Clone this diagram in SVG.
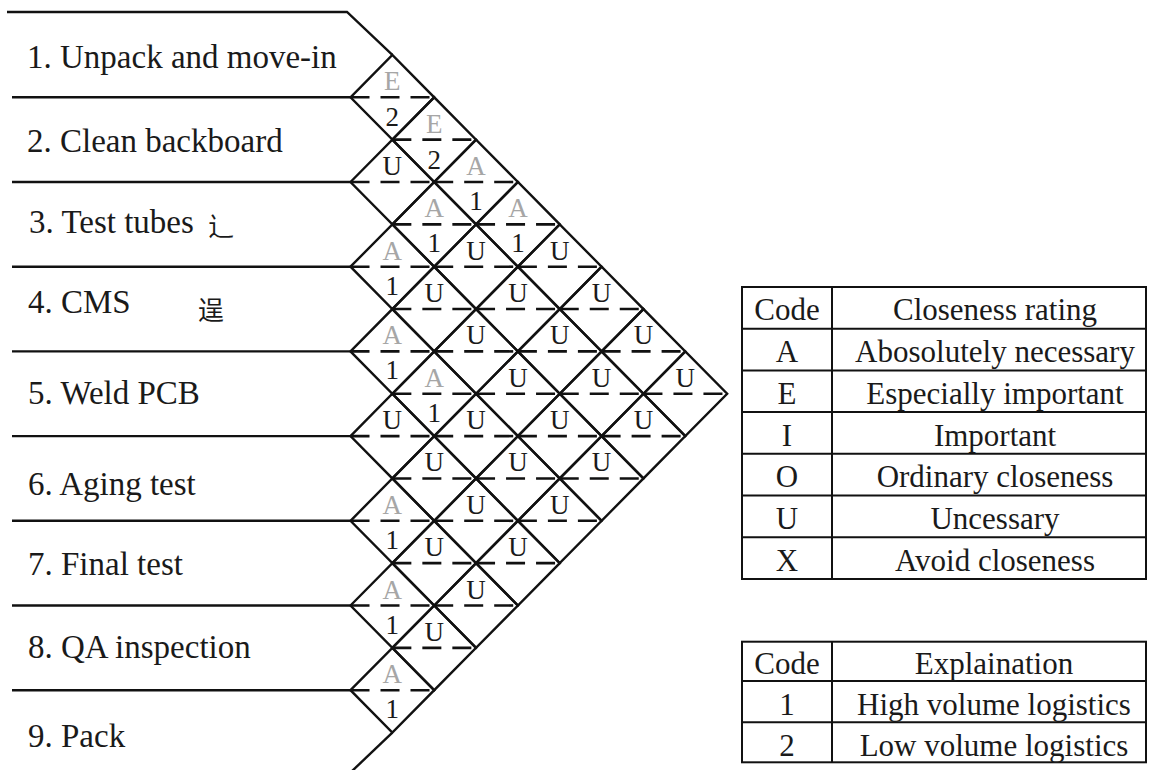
<svg xmlns="http://www.w3.org/2000/svg" xmlns:xlink="http://www.w3.org/1999/xlink" width="1149" height="770" viewBox="0 0 1149 770">
<style>
.ln{stroke:#111;stroke-width:2.4;fill:none}
.dash{stroke:#111;stroke-width:2.6;stroke-dasharray:19 11;fill:none}
.lbl{font-family:"Liberation Serif","Noto Sans CJK SC",serif;font-size:33px;fill:#1a1a1a}
.cjk{font-family:"Noto Sans CJK SC",sans-serif;font-size:26px;fill:#1a1a1a}
.g{font-family:"Liberation Serif",serif;font-size:27px;fill:#a6a6a6;text-anchor:middle}
.k{font-family:"Liberation Serif",serif;font-size:27px;fill:#1a1a1a;text-anchor:middle}
.t{font-family:"Liberation Serif",serif;font-size:31px;fill:#1a1a1a;text-anchor:middle}
.tb{stroke:#111;stroke-width:2;fill:none}
</style>
<defs>
<g id="dia">
<polygon class="ln" points="-41.85,0 0,-42.35 41.85,0 0,42.35"/>
<line class="dash" x1="-41.85" y1="0" x2="41.85" y2="0"/>
</g>
</defs>
<rect width="1149" height="770" fill="#fff"/>

<g id="rows">
<polyline class="ln" points="7,12 347,12 392.35,54.95"/>
<line class="ln" x1="12" y1="97.3" x2="350.5" y2="97.3"/>
<line class="ln" x1="12" y1="182" x2="350.5" y2="182"/>
<line class="ln" x1="12" y1="266.7" x2="350.5" y2="266.7"/>
<line class="ln" x1="12" y1="351.4" x2="350.5" y2="351.4"/>
<line class="ln" x1="12" y1="436.1" x2="350.5" y2="436.1"/>
<line class="ln" x1="12" y1="520.8" x2="350.5" y2="520.8"/>
<line class="ln" x1="12" y1="605.5" x2="350.5" y2="605.5"/>
<line class="ln" x1="12" y1="690.2" x2="350.5" y2="690.2"/>
<line class="ln" x1="392.35" y1="732.55" x2="350" y2="773"/>
</g>

<g id="activity-1"><text class="lbl" x="27" y="68">1. Unpack and move-in</text></g>
<g id="activity-2"><text class="lbl" x="27" y="152">2. Clean backboard</text></g>
<g id="activity-3"><text class="lbl" x="29" y="233">3. Test tubes</text><text class="cjk" x="208" y="236">辶</text></g>
<g id="activity-4"><text class="lbl" x="28" y="313">4. CMS</text><text class="cjk" x="198" y="320">逞</text></g>
<g id="activity-5"><text class="lbl" x="28" y="404">5. Weld PCB</text></g>
<g id="activity-6"><text class="lbl" x="28" y="495">6. Aging test</text></g>
<g id="activity-7"><text class="lbl" x="28" y="575">7. Final test</text></g>
<g id="activity-8"><text class="lbl" x="28" y="658">8. QA inspection</text></g>
<g id="activity-9"><text class="lbl" x="28" y="747">9. Pack</text></g>

<g id="matrix">
<g id="r1-2" transform="translate(392.35,97.3)"><use xlink:href="#dia"/><text class="g" y="-7">E</text><text class="k" y="29">2</text></g>
<g id="r2-3" transform="translate(392.35,182)"><use xlink:href="#dia"/><text class="k" y="-7">U</text></g>
<g id="r3-4" transform="translate(392.35,266.7)"><use xlink:href="#dia"/><text class="g" y="-7">A</text><text class="k" y="28">1</text></g>
<g id="r4-5" transform="translate(392.35,351.4)"><use xlink:href="#dia"/><text class="g" y="-7">A</text><text class="k" y="28">1</text></g>
<g id="r5-6" transform="translate(392.35,436.1)"><use xlink:href="#dia"/><text class="k" y="-7">U</text></g>
<g id="r6-7" transform="translate(392.35,520.8)"><use xlink:href="#dia"/><text class="g" y="-7">A</text><text class="k" y="28">1</text></g>
<g id="r7-8" transform="translate(392.35,605.5)"><use xlink:href="#dia"/><text class="g" y="-7">A</text><text class="k" y="28">1</text></g>
<g id="r8-9" transform="translate(392.35,690.2)"><use xlink:href="#dia"/><text class="g" y="-7">A</text><text class="k" y="28">1</text></g>
<g id="r1-3" transform="translate(434.2,139.65)"><use xlink:href="#dia"/><text class="g" y="-7">E</text><text class="k" y="29">2</text></g>
<g id="r2-4" transform="translate(434.2,224.35)"><use xlink:href="#dia"/><text class="g" y="-7">A</text><text class="k" y="28">1</text></g>
<g id="r3-5" transform="translate(434.2,309.05)"><use xlink:href="#dia"/><text class="k" y="-7">U</text></g>
<g id="r4-6" transform="translate(434.2,393.75)"><use xlink:href="#dia"/><text class="g" y="-7">A</text><text class="k" y="28">1</text></g>
<g id="r5-7" transform="translate(434.2,478.45)"><use xlink:href="#dia"/><text class="k" y="-7">U</text></g>
<g id="r6-8" transform="translate(434.2,563.15)"><use xlink:href="#dia"/><text class="k" y="-7">U</text></g>
<g id="r7-9" transform="translate(434.2,647.85)"><use xlink:href="#dia"/><text class="k" y="-7">U</text></g>
<g id="r1-4" transform="translate(476.05,182)"><use xlink:href="#dia"/><text class="g" y="-7">A</text><text class="k" y="28">1</text></g>
<g id="r2-5" transform="translate(476.05,266.7)"><use xlink:href="#dia"/><text class="k" y="-7">U</text></g>
<g id="r3-6" transform="translate(476.05,351.4)"><use xlink:href="#dia"/><text class="k" y="-7">U</text></g>
<g id="r4-7" transform="translate(476.05,436.1)"><use xlink:href="#dia"/><text class="k" y="-7">U</text></g>
<g id="r5-8" transform="translate(476.05,520.8)"><use xlink:href="#dia"/><text class="k" y="-7">U</text></g>
<g id="r6-9" transform="translate(476.05,605.5)"><use xlink:href="#dia"/><text class="k" y="-7">U</text></g>
<g id="r1-5" transform="translate(517.9,224.35)"><use xlink:href="#dia"/><text class="g" y="-7">A</text><text class="k" y="28">1</text></g>
<g id="r2-6" transform="translate(517.9,309.05)"><use xlink:href="#dia"/><text class="k" y="-7">U</text></g>
<g id="r3-7" transform="translate(517.9,393.75)"><use xlink:href="#dia"/><text class="k" y="-7">U</text></g>
<g id="r4-8" transform="translate(517.9,478.45)"><use xlink:href="#dia"/><text class="k" y="-7">U</text></g>
<g id="r5-9" transform="translate(517.9,563.15)"><use xlink:href="#dia"/><text class="k" y="-7">U</text></g>
<g id="r1-6" transform="translate(559.75,266.7)"><use xlink:href="#dia"/><text class="k" y="-7">U</text></g>
<g id="r2-7" transform="translate(559.75,351.4)"><use xlink:href="#dia"/><text class="k" y="-7">U</text></g>
<g id="r3-8" transform="translate(559.75,436.1)"><use xlink:href="#dia"/><text class="k" y="-7">U</text></g>
<g id="r4-9" transform="translate(559.75,520.8)"><use xlink:href="#dia"/><text class="k" y="-7">U</text></g>
<g id="r1-7" transform="translate(601.6,309.05)"><use xlink:href="#dia"/><text class="k" y="-7">U</text></g>
<g id="r2-8" transform="translate(601.6,393.75)"><use xlink:href="#dia"/><text class="k" y="-7">U</text></g>
<g id="r3-9" transform="translate(601.6,478.45)"><use xlink:href="#dia"/><text class="k" y="-7">U</text></g>
<g id="r1-8" transform="translate(643.45,351.4)"><use xlink:href="#dia"/><text class="k" y="-7">U</text></g>
<g id="r2-9" transform="translate(643.45,436.1)"><use xlink:href="#dia"/><text class="k" y="-7">U</text></g>
<g id="r1-9" transform="translate(685.3,393.75)"><use xlink:href="#dia"/><text class="k" y="-7">U</text></g>
</g>

<g id="legend-closeness">
<rect class="tb" x="742" y="287" width="404" height="292"/>
<line class="tb" x1="832" y1="287" x2="832" y2="579"/>
<line class="tb" x1="742" y1="328.7" x2="1146" y2="328.7"/>
<line class="tb" x1="742" y1="370.4" x2="1146" y2="370.4"/>
<line class="tb" x1="742" y1="412" x2="1146" y2="412"/>
<line class="tb" x1="742" y1="453.8" x2="1146" y2="453.8"/>
<line class="tb" x1="742" y1="495.5" x2="1146" y2="495.5"/>
<line class="tb" x1="742" y1="537.2" x2="1146" y2="537.2"/>
<text class="t" x="787" y="320">Code</text><text class="t" x="995" y="320">Closeness rating</text>
<text class="t" x="787" y="362">A</text><text class="t" x="995" y="362">Abosolutely necessary</text>
<text class="t" x="787" y="404">E</text><text class="t" x="995" y="404">Especially important</text>
<text class="t" x="787" y="445.5">I</text><text class="t" x="995" y="445.5">Important</text>
<text class="t" x="787" y="487">O</text><text class="t" x="995" y="487">Ordinary closeness</text>
<text class="t" x="787" y="529">U</text><text class="t" x="995" y="529">Uncessary</text>
<text class="t" x="787" y="570.5">X</text><text class="t" x="995" y="570.5">Avoid closeness</text>
</g>

<g id="legend-logistics">
<rect class="tb" x="742" y="641.7" width="404" height="120.6"/>
<line class="tb" x1="832" y1="641.7" x2="832" y2="762.3"/>
<line class="tb" x1="742" y1="681" x2="1146" y2="681"/>
<line class="tb" x1="742" y1="722.3" x2="1146" y2="722.3"/>
<text class="t" x="787" y="674">Code</text><text class="t" x="994" y="674">Explaination</text>
<text class="t" x="787" y="715">1</text><text class="t" x="994" y="715">High volume logistics</text>
<text class="t" x="787" y="755.7">2</text><text class="t" x="994" y="755.7">Low volume logistics</text>
</g>
</svg>
